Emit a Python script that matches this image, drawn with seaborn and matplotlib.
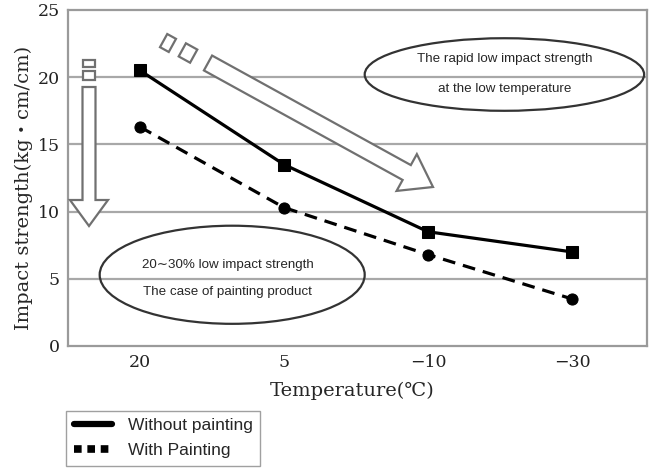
import numpy as np
import pandas as pd
import matplotlib
matplotlib.use("Agg")
import matplotlib.pyplot as plt
import seaborn as sns
from matplotlib.lines import Line2D
from matplotlib.patches import Polygon, Ellipse

# chart data
temperatures = ["20", "5", "\u221210", "\u221230"]
without_painting = [20.5, 13.5, 8.5, 7.0]
with_painting = [16.3, 10.3, 6.8, 3.5]

sns.set_style("white")
plt.rcParams["font.family"] = ["DejaVu Serif", "Noto Sans CJK JP"]

W, H = 652, 471
fig = plt.figure(figsize=(W / 100, H / 100), dpi=100)
ax = fig.add_axes([68 / W, 1 - 346 / H, (647 - 68) / W, (346 - 10) / H])

df = pd.DataFrame({"temp": temperatures, "without": without_painting, "with": with_painting})

sns.lineplot(data=df, x="temp", y="without", ax=ax, color="black", lw=2.3,
             marker="s", markersize=9, markeredgecolor="black", sort=False)
sns.lineplot(data=df, x="temp", y="with", ax=ax, color="black", lw=2.3,
             linestyle=(0, (4, 2.5)), marker="o", markersize=8,
             markeredgecolor="black", sort=False)

ax.set_ylim(0, 25)
ax.set_xlim(-0.5, 3.52)
ax.set_yticks([0, 5, 10, 15, 20, 25])
for yv in [5, 10, 15, 20]:
    ax.axhline(yv, color="#a8a8a8", lw=1.6, zorder=0)
for s in ax.spines.values():
    s.set_color("#9a9a9a")
    s.set_linewidth(1.6)
ax.tick_params(axis="both", labelsize=12.5, length=0, pad=6, colors="#222222")
ax.set_xticks([1.5, 2.5], minor=True)
ax.tick_params(axis="x", which="minor", length=4, color="#9a9a9a", direction="in")
ax.set_xlabel("Temperature(\u2103)", fontsize=14)
ax.set_ylabel("Impact strength(kg\u30fbcm/cm)", fontsize=14)
ax.yaxis.set_label_coords(-0.06, 0.47)
ax.xaxis.set_label_coords(0.49, -0.105)


def px(x, y):
    return (x / W, 1 - y / H)


def block_arrow(x0, y0, x1, y1, w, hw, hl):
    d = np.array([x1 - x0, y1 - y0], float)
    L = np.hypot(*d)
    u = d / L
    n = np.array([-u[1], u[0]])
    p0 = np.array([x0, y0], float)
    pb = p0 + u * (L - hl)
    tip = np.array([x1, y1], float)
    pts = [p0 + n * w / 2, pb + n * w / 2, pb + n * hw / 2, tip,
           pb - n * hw / 2, pb - n * w / 2, p0 - n * w / 2]
    fig.patches.append(Polygon([px(*p) for p in pts], closed=True, transform=fig.transFigure,
                               facecolor="white", edgecolor="#707070", lw=1.6, zorder=5))


def block_piece(cx, cy, ux, uy, length, w):
    u = np.array([ux, uy], float)
    u /= np.hypot(*u)
    n = np.array([-u[1], u[0]])
    c = np.array([cx, cy], float)
    pts = [c - u * length / 2 + n * w / 2, c + u * length / 2 + n * w / 2,
           c + u * length / 2 - n * w / 2, c - u * length / 2 - n * w / 2]
    fig.patches.append(Polygon([px(*p) for p in pts], closed=True, transform=fig.transFigure,
                               facecolor="white", edgecolor="#707070", lw=1.6, zorder=5))


# vertical arrow
block_arrow(89, 87, 89, 226, 13, 38, 26)
block_piece(89, 63, 0, 1, 7, 13)
block_piece(89, 75, 0, 1, 9, 13)
# diagonal arrow
block_arrow(208, 63, 433, 187, 17, 42, 30)
block_piece(168, 43, 225, 124, 10, 15)
block_piece(188, 53, 225, 124, 13, 15)

# ellipses with notes
ax.add_patch(Ellipse((2.53, 20.2), 1.94, 5.4, facecolor="none", edgecolor="#333333", lw=1.6, zorder=6))
ax.add_patch(Ellipse((0.64, 5.3), 1.84, 7.3, facecolor="none", edgecolor="#333333", lw=1.6, zorder=6))
note_kw = dict(fontsize=9.6, ha="center", va="center", family=["Liberation Sans", "DejaVu Sans"],
               zorder=7, bbox=dict(facecolor="white", edgecolor="none", pad=1.5))
ax.text(2.53, 21.35, "The rapid low impact strength", **note_kw)
ax.text(2.53, 19.1, "at the low temperature", **note_kw)
ax.text(0.61, 6.0, "20\u223c30% low impact strength", **note_kw)
ax.text(0.61, 4.0, "The case of painting product", **note_kw)

handles = [Line2D([], [], color="black", lw=4.5),
           Line2D([], [], color="black", lw=5.5, linestyle=(0, (1, 0.75)))]
fig.legend(handles, ["Without painting", "With Painting"], loc="lower left",
           bbox_to_anchor=(66 / W, 5 / H), borderaxespad=0, frameon=True, fancybox=False,
           edgecolor="#888888", prop={"family": ["Liberation Sans", "DejaVu Sans"], "size": 12.5},
           handlelength=2.2, borderpad=0.45, labelspacing=0.55, handletextpad=0.9)

fig.savefig("out.png", dpi=100)
